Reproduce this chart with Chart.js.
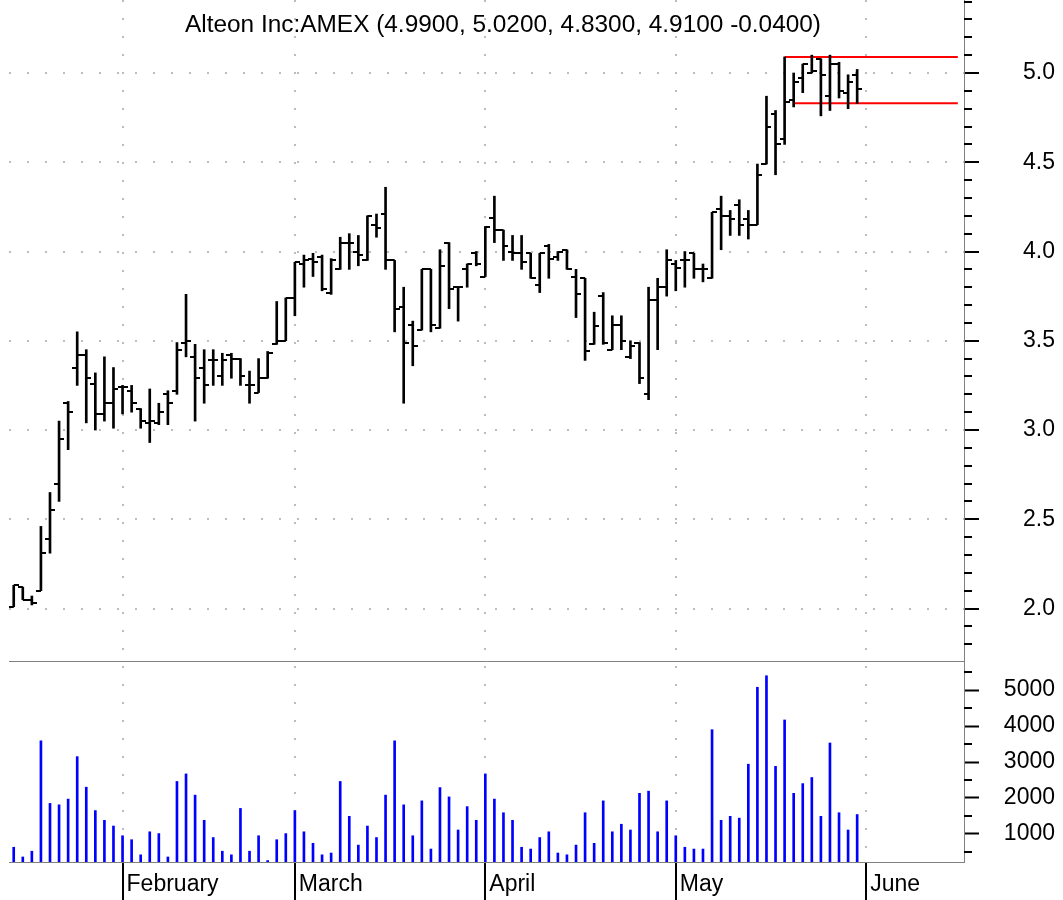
<!DOCTYPE html>
<html>
<head>
<meta charset="utf-8">
<title>Alteon Inc:AMEX</title>
<script src="https://cdn.jsdelivr.net/npm/chart.js@4.4.1/dist/chart.umd.min.js"></script>
<style>
  html, body { margin: 0; padding: 0; background: #fff; }
  #wrap { width: 1063px; height: 900px; }
</style>
</head>
<body>
<div id="wrap"><canvas id="alteonChart" width="1063" height="900"></canvas></div>
<script>
// trading days, Jan 15 - May 30 2003 (MM-DD)
const dates = [
  '01-15','01-16','01-17','01-21','01-22','01-23','01-24','01-27','01-28','01-29','01-30','01-31',
  '02-03','02-04','02-05','02-06','02-07','02-10','02-11','02-12','02-13','02-14','02-18','02-19','02-20','02-21','02-24','02-25','02-26','02-27','02-28',
  '03-03','03-04','03-05','03-06','03-07','03-10','03-11','03-12','03-13','03-14','03-17','03-18','03-19','03-20','03-21','03-24','03-25','03-26','03-27','03-28','03-31',
  '04-01','04-02','04-03','04-04','04-07','04-08','04-09','04-10','04-11','04-14','04-15','04-16','04-17','04-21','04-22','04-23','04-24','04-25','04-28','04-29','04-30',
  '05-01','05-02','05-05','05-06','05-07','05-08','05-09','05-12','05-13','05-14','05-15','05-16','05-19','05-20','05-21','05-22','05-23','05-27','05-28','05-29','05-30'
];

const opens = [
  2.01, 2.12, 2.05, 2.10, 2.39, 2.70, 3.15, 3.35, 3.42, 3.26,
  3.09, 3.15, 3.24, 3.22, 3.12, 3.04, 3.04, 3.20, 3.22, 3.49,
  3.41, 3.35, 3.39, 3.30, 3.42, 3.40, 3.25, 3.21, 3.29, 3.48,
  3.50, 3.74, 3.93, 3.96, 3.97, 3.77, 3.90, 4.05, 4.00, 3.95,
  4.15, 4.21, 3.95, 3.69, 3.59, 3.56, 3.90, 3.57, 4.05, 3.80,
  3.90, 3.99, 3.86, 4.19, 4.12, 4.00, 3.99, 3.99, 3.81, 4.03,
  3.97, 4.01, 3.86, 3.85, 3.48, 3.75, 3.45, 3.59, 3.41, 3.49,
  3.20, 3.73, 3.80, 3.93, 3.95, 3.99, 3.90, 3.85, 4.24, 4.20,
  4.26, 4.18, 4.15, 4.49, 4.77, 4.63, 4.85, 4.97, 5.00, 5.08,
  4.87, 5.05, 4.89, 4.99
];
const highs = [
  2.13, 2.12, 2.07, 2.46, 2.65, 3.05, 3.16, 3.55, 3.45, 3.32,
  3.41, 3.35, 3.25, 3.25, 3.12, 3.23, 3.15, 3.22, 3.49, 3.76,
  3.48, 3.45, 3.45, 3.43, 3.43, 3.40, 3.33, 3.40, 3.44, 3.72,
  3.74, 3.94, 3.98, 3.99, 3.98, 3.96, 4.08, 4.10, 4.09, 4.20,
  4.21, 4.36, 3.95, 3.80, 3.61, 3.90, 3.90, 4.01, 4.05, 3.80,
  3.93, 4.00, 4.14, 4.31, 4.12, 4.09, 4.09, 3.99, 3.99, 4.04,
  4.00, 4.01, 3.90, 3.85, 3.66, 3.77, 3.64, 3.64, 3.50, 3.49,
  3.80, 3.85, 4.01, 3.95, 4.00, 3.99, 3.93, 4.22, 4.31, 4.23,
  4.29, 4.23, 4.49, 4.87, 4.79, 5.09, 5.00, 5.05, 5.10, 5.08,
  5.10, 5.06, 4.99, 5.02
];
const lows = [
  2.01, 2.05, 2.02, 2.10, 2.31, 2.60, 2.89, 3.25, 3.04, 3.00,
  3.05, 3.01, 3.09, 3.10, 3.01, 2.93, 3.03, 3.03, 3.20, 3.41,
  3.05, 3.15, 3.25, 3.25, 3.29, 3.25, 3.15, 3.21, 3.29, 3.48,
  3.50, 3.64, 3.80, 3.86, 3.78, 3.76, 3.90, 3.90, 3.92, 3.95,
  4.08, 3.90, 3.55, 3.15, 3.36, 3.56, 3.55, 3.57, 3.68, 3.61,
  3.80, 3.92, 3.86, 4.05, 3.95, 3.95, 3.90, 3.85, 3.77, 3.85,
  3.95, 3.90, 3.63, 3.39, 3.48, 3.48, 3.45, 3.45, 3.40, 3.26,
  3.17, 3.45, 3.75, 3.78, 3.80, 3.85, 3.83, 3.85, 4.01, 4.09,
  4.09, 4.07, 4.15, 4.49, 4.43, 4.60, 4.81, 4.89, 5.00, 4.76,
  4.79, 4.86, 4.80, 4.83
];
const closes = [
  2.13, 2.05, 2.03, 2.31, 2.55, 2.95, 3.10, 3.42, 3.29, 3.09,
  3.15, 3.23, 3.24, 3.15, 3.05, 3.05, 3.10, 3.15, 3.45, 3.50,
  3.29, 3.25, 3.39, 3.39, 3.40, 3.30, 3.25, 3.29, 3.43, 3.50,
  3.74, 3.94, 3.95, 3.94, 3.79, 3.95, 4.05, 4.05, 3.98, 4.20,
  4.13, 3.95, 3.68, 3.49, 3.47, 3.90, 3.59, 3.92, 3.79, 3.80,
  3.93, 3.93, 4.14, 4.12, 4.03, 3.99, 3.94, 3.85, 3.99, 3.96,
  4.00, 3.90, 3.76, 3.44, 3.58, 3.49, 3.59, 3.50, 3.47, 3.29,
  3.73, 3.80, 3.95, 3.91, 3.95, 3.90, 3.90, 4.22, 4.20, 4.18,
  4.15, 4.15, 4.43, 4.70, 4.60, 4.84, 4.95, 5.05, 5.01, 4.99,
  5.05, 4.90, 4.95, 4.91
];
const volumes = [
  630, 360, 520, 3590, 1850, 1810, 1970, 3150, 2300, 1650,
  1380, 1220, 950, 840, 420, 1060, 1010, 360, 2460, 2670,
  2080, 1380, 900, 520, 420, 1710, 520, 950, 260, 840,
  1010, 1650, 1060, 740, 420, 470, 2460, 1490, 690, 1220,
  900, 2080, 3590, 1810, 950, 1920, 580, 2290, 2030, 1110,
  1760, 1380, 2670, 1970, 1590, 1380, 630, 580, 900, 1060,
  470, 420, 690, 1590, 740, 1920, 1060, 1270, 1110, 2130,
  2190, 1060, 1920, 950, 630, 580, 580, 3900, 1380, 1490,
  1440, 2940, 5080, 5400, 2880, 4170, 2130, 2400, 2570, 1490,
  3530, 1590, 1110, 1540
];

// axis ticks (positions in trading-day index)
const monthTicks = [12, 31, 52, 73, 94];
const monthNames = ['February', 'March', 'April', 'May', 'June'];
const weekTicks = [3, 7, 12, 17, 22, 26, 31, 36, 41, 46, 51, 56, 61, 65, 70, 75, 80, 85, 90, 94, 99, 104];
const priceTicks = [2.0, 2.5, 3.0, 3.5, 4.0, 4.5, 5.0];
const volumeTicks = [1000, 2000, 3000, 4000, 5000];

// red range lines drawn on the last bars
const bandLevels = [5.09, 4.83];
const bandStarts = [85, 86];
const bandEnd = 104.1;

const last = opens.length - 1;
const titleText = 'Alteon Inc:AMEX (' + [opens[last], highs[last], lows[last], closes[last]]
  .map(v => v.toFixed(4)).join(', ') + ' ' + (closes[last] - closes[last - 1]).toFixed(4) + ')';

const FONT = '"Liberation Sans", Arial, sans-serif';

// little open / close tick marks used as point styles
function tickMark(side) {
  const c = document.createElement('canvas');
  c.width = 10;
  c.height = 2;
  const g = c.getContext('2d');
  g.fillStyle = '#000';
  g.fillRect(side === 'left' ? 0 : 5, 0, 5, 2);
  return c;
}
const openMark = tickMark('left');
const closeMark = tickMark('right');

const decor = {
  id: 'decor',
  afterDraw(chart) {
    const {ctx, chartArea, scales} = chart;
    ctx.save();
    // line between price and volume panes
    const sepY = Math.round(scales.v.top) + 0.5;
    ctx.strokeStyle = '#808080';
    ctx.lineWidth = 1;
    ctx.beginPath();
    ctx.moveTo(chartArea.left, sepY);
    ctx.lineTo(chartArea.right, sepY);
    ctx.stroke();

    // minor ticks on the right axes
    ctx.strokeStyle = '#000';
    ctx.lineWidth = 2;
    [['y', 0.1, 0.5], ['v', 500, 1000]].forEach(([id, step, major]) => {
      const s = scales[id];
      for (let k = Math.ceil(s.min / step - 1e-9); k * step <= s.max + 1e-9; k++) {
        const val = k * step;
        if (Math.abs(val / major - Math.round(val / major)) < 1e-6) continue;
        const py = Math.round(s.getPixelForValue(val));
        ctx.beginPath();
        ctx.moveTo(s.left, py);
        ctx.lineTo(s.left + 8, py);
        ctx.stroke();
      }
    });

    // title
    ctx.fillStyle = '#000';
    ctx.font = '24.4px ' + FONT;
    ctx.textAlign = 'center';
    ctx.textBaseline = 'alphabetic';
    ctx.fillText(titleText, 503, 32);
    ctx.restore();
  }
};

const dotted = [2, 16];

const ctx = document.getElementById('alteonChart').getContext('2d');
const chart = new Chart(ctx, {
  type: 'bar',
  data: {
    datasets: [
      {
        label: 'Range',
        data: highs.map((h, i) => ({x: i, y: [lows[i], h]})),
        backgroundColor: '#000',
        barThickness: 2,
        grouped: false,
        yAxisID: 'y'
      },
      {
        type: 'line',
        label: 'Open',
        data: opens.map((o, i) => ({x: i, y: o})),
        showLine: false,
        pointStyle: openMark,
        pointRadius: 3,
        yAxisID: 'y'
      },
      {
        type: 'line',
        label: 'Close',
        data: closes.map((c, i) => ({x: i, y: c})),
        showLine: false,
        pointStyle: closeMark,
        pointRadius: 3,
        yAxisID: 'y'
      },
      ...bandLevels.map((lvl, k) => ({
        type: 'line',
        label: 'Band ' + k,
        data: [{x: bandStarts[k], y: lvl}, {x: bandEnd, y: lvl}],
        borderColor: '#ff0000',
        borderWidth: 2,
        pointRadius: 0,
        yAxisID: 'y'
      })),
      {
        label: 'Volume',
        data: volumes.map((v, i) => ({x: i, y: v})),
        backgroundColor: '#0000ff',
        barThickness: 2,
        grouped: false,
        yAxisID: 'v'
      }
    ]
  },
  options: {
    responsive: false,
    animation: false,
    devicePixelRatio: 1,
    layout: { autoPadding: false, padding: { left: 9, right: 8, top: 0, bottom: 0 } },
    plugins: {
      legend: { display: false },
      tooltip: {
        callbacks: {
          title: items => dates[items[0].parsed.x] || ''
        }
      }
    },
    scales: {
      x: {
        type: 'linear',
        position: 'bottom',
        min: -0.52,
        max: 104.78,
        offset: false,
        afterBuildTicks: s => { s.ticks = monthTicks.map(v => ({value: v})); },
        afterFit: s => { s.height = 38; s.paddingLeft = 0; s.paddingRight = 0; },
        ticks: {
          callback: (v, i) => monthNames[i],
          autoSkip: false,
          maxRotation: 0,
          align: 'start',
          labelOffset: 4,
          padding: -29,
          color: '#000',
          font: { size: 23, family: FONT }
        },
        grid: { offset: false, color: '#bdbdbd', lineWidth: 2, tickLength: 38, tickColor: '#000', tickWidth: 2 },
        border: { color: '#808080', width: 1, dash: dotted }
      },
      xw: {
        type: 'linear',
        position: 'bottom',
        min: -0.52,
        max: 104.78,
        offset: false,
        afterBuildTicks: s => { s.ticks = weekTicks.map(v => ({value: v})); },
        afterFit: s => { s.height = 0; s.paddingLeft = 0; s.paddingRight = 0; },
        ticks: { display: false },
        grid: { offset: false, drawOnChartArea: false, tickLength: 9, tickColor: '#000', tickWidth: 2 },
        border: { display: false }
      },
      y: {
        type: 'linear',
        position: 'right',
        stack: 'panes',
        stackWeight: 661,
        min: 1.706,
        max: 5.409,
        afterBuildTicks: s => { s.ticks = priceTicks.map(v => ({value: v})); },
        afterFit: s => { s.width = 91; s.paddingTop = 0; s.paddingBottom = 0; },
        ticks: {
          callback: v => v.toFixed(1),
          autoSkip: false,
          crossAlign: 'far',
          color: '#000',
          font: { size: 23, family: FONT }
        },
        grid: { color: '#bdbdbd', lineWidth: 2, tickLength: 15, tickColor: '#000', tickWidth: 2 },
        border: { color: '#808080', width: 1, dash: dotted }
      },
      v: {
        type: 'linear',
        position: 'right',
        stack: 'panes',
        stackWeight: 201,
        min: 220,
        max: 5810,
        afterBuildTicks: s => { s.ticks = volumeTicks.map(v => ({value: v})); },
        afterFit: s => { s.width = 91; s.paddingTop = 0; s.paddingBottom = 0; },
        ticks: {
          callback: v => String(v),
          autoSkip: false,
          crossAlign: 'far',
          color: '#000',
          font: { size: 23, family: FONT }
        },
        grid: { drawOnChartArea: false, tickLength: 15, tickColor: '#000', tickWidth: 2 },
        border: { color: '#808080', width: 1 }
      }
    }
  },
  plugins: [decor]
});
</script>
</body>
</html>
